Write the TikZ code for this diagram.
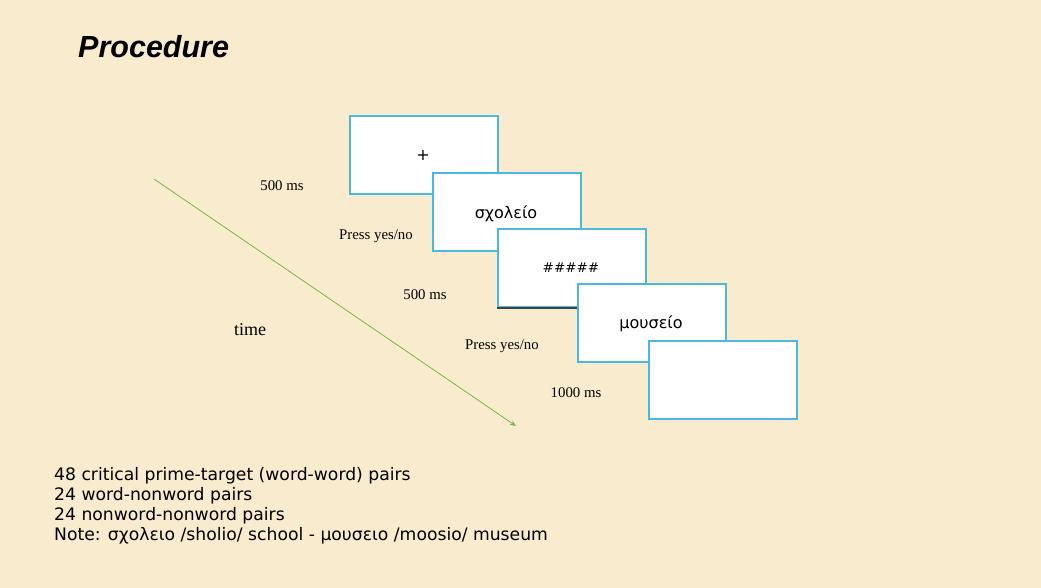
\documentclass[tikz,border=0pt]{standalone}
\usepackage{fontspec}
\setmainfont{Liberation Serif}
\newfontfamily\titlefont{Liberation Sans}
\newfontfamily\bodyfont{DejaVu Sans}
\usetikzlibrary{arrows.meta}
\definecolor{bg}{RGB}{249,235,206}
\definecolor{framecol}{RGB}{75,185,220}
\definecolor{arrowcol}{RGB}{115,185,65}
\tikzset{
  screen/.style={draw=framecol, line width=1.8pt, fill=white, minimum width=148pt, minimum height=78pt, inner sep=0pt, anchor=north west},
  screentext/.style={font=\bodyfont\fontsize{16}{18}\selectfont},
  lab/.style={font=\fontsize{14.8}{17}\selectfont, inner sep=0pt},
  note/.style={font=\bodyfont\fontsize{17.2}{20}\selectfont, anchor=north west, align=left, inner sep=0pt}
}
\begin{document}
\begin{tikzpicture}[x=1pt,y=-1pt]
\fill[bg] (0,0) rectangle (1041,588);
\useasboundingbox (0,0) rectangle (1041,588);
\node[font=\titlefont\bfseries\itshape\fontsize{30.5}{33}\selectfont, anchor=base west, inner sep=0pt] (title) at (78,58) {Procedure};
\node[screen] (s1) at (349,115) {};
\node[screentext] (t1) at (423,155) {+};
\node[screen] (s2) at (432,172) {};
\node[screentext] (t2) at (506,214) {σχολείο};
\node[screen] (s3) at (497,228) {};
\node[screentext, font=\bodyfont\fontsize{13.5}{16}\selectfont] (t3) at (571,268) {\#\#\#\#\#};
\draw[black!75, line width=1.8pt] (s3.south west) -- ++(80,0);
\node[screen] (s4) at (577,283) {};
\node[screentext] (t4) at (651,324) {μουσείο};
\node[screen] (s5) at (648,340) {};
\coordinate (a0) at (154,179);
\coordinate (a1) at (516,426);
\draw[arrowcol, line width=0.8pt, -{Stealth[length=6pt,width=5pt]}] (a0) -- (a1);
\node[lab] (l1) at (282,186) {500 ms};
\node[lab] (l2) at (376,236) {Press yes/no};
\node[lab] (l3) at (425,295) {500 ms};
\node[lab, font=\fontsize{18}{20}\selectfont] (l4) at (250,330) {time};
\node[lab] (l5) at (502,346) {Press yes/no};
\node[lab] (l6) at (576,393) {1000 ms};
\node[note] (n1) at (54,467) {48 critical prime-target (word-word) pairs\\24 word-nonword pairs\\24 nonword-nonword pairs\\Note: σχολειο /sholio/ school - μουσειο /moosio/ museum};
\end{tikzpicture}
\end{document}
